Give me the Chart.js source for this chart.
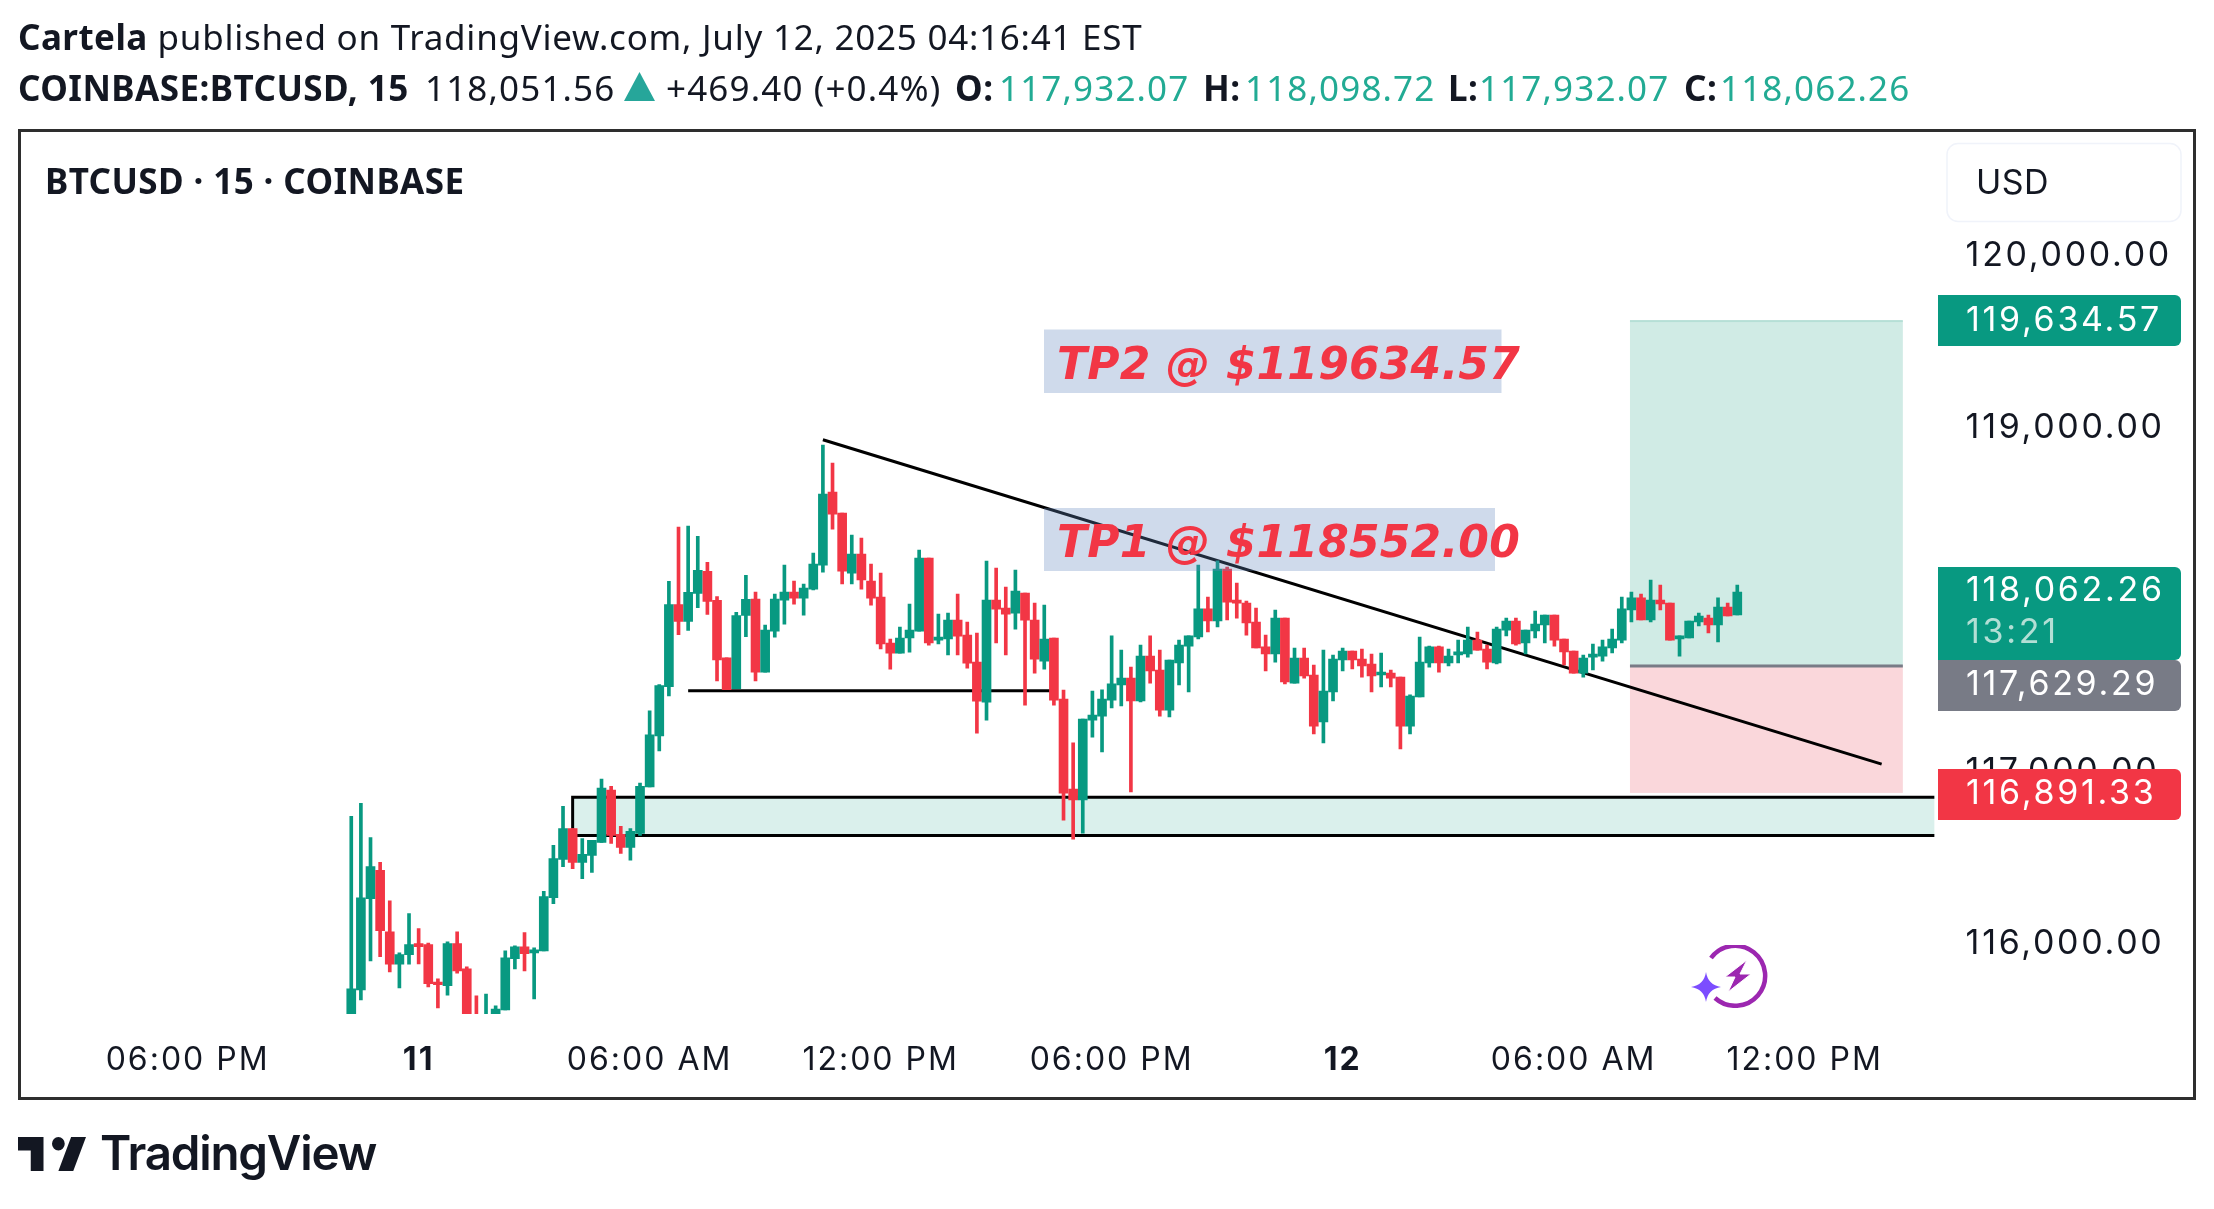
<!DOCTYPE html>
<html><head><meta charset="utf-8">
<script src="https://cdn.jsdelivr.net/npm/chart.js@4/dist/chart.umd.min.js"></script>
<style>
html,body{margin:0;padding:0;background:#fff;width:2214px;height:1209px;overflow:hidden}
canvas{position:absolute;left:0;top:0}
.t{position:absolute;white-space:nowrap;font-family:"Noto Sans",sans-serif;color:#131722;font-size:35px;line-height:40px;letter-spacing:.75px}
.v{letter-spacing:1.15px}
.b{font-weight:700;letter-spacing:.45px}.g{color:#22ab94}
#frame{position:absolute;left:18px;top:129px;width:2172px;height:965px;border:3px solid #2e2e2e;pointer-events:none;box-sizing:content-box}
</style></head><body>
<canvas id="c" width="2214" height="1209"></canvas>
<div class="t" style="left:18px;top:17px"><span class="b">Cartela</span> published on TradingView.com, July 12, 2025 04:16:41 EST</div>
<div class="t b" style="left:18px;top:68px">COINBASE:BTCUSD, 15</div>
<div class="t v" style="left:425px;top:68px">118,051.56</div>
<svg style="position:absolute;left:624px;top:72px" width="31" height="29"><polygon points="15.5,0 31,29 0,29" fill="#26a69a"/></svg>
<div class="t v" style="left:666px;top:68px">+469.40 (+0.4%)</div>
<div class="t b" style="left:955px;top:68px">O:</div><div class="t v g" style="left:999px;top:68px">117,932.07</div>
<div class="t b" style="left:1203px;top:68px">H:</div><div class="t v g" style="left:1245px;top:68px">118,098.72</div>
<div class="t b" style="left:1448px;top:68px">L:</div><div class="t v g" style="left:1479px;top:68px">117,932.07</div>
<div class="t b" style="left:1684px;top:68px">C:</div><div class="t v g" style="left:1720px;top:68px">118,062.26</div>
<div class="t b" style="left:45px;top:161px;letter-spacing:.4px">BTCUSD · 15 · COINBASE</div>
<div id="frame"></div>
<svg style="position:absolute;left:1691px;top:945px" width="78" height="63" viewBox="0 0 78 63">
<path d="M20 13 A30 30 0 1 1 24 53" fill="none" stroke="#9c27b0" stroke-width="4.5"/>
<path d="M56 15 L34 32 L44 32 L37 47 L60 29 L49 29 Z" fill="#9c27b0" stroke="#fff" stroke-width="1"/>
<path d="M15 27 Q17 40 30 42 Q17 44 15 57 Q13 44 0 42 Q13 40 15 27Z" fill="#7c4dff"/>
</svg>
<svg style="position:absolute;left:18px;top:1137px" width="68" height="34" viewBox="2 6 32 15" preserveAspectRatio="none"><path d="M14 6H2v6h6v9h6V6zm14 15h-7l6-15h7l-6 15zm-7-9a3 3 0 1 0 0-6 3 3 0 0 0 0 6z" fill="#131722"/></svg>
<div class="t" style="left:100px;top:1127px;font-family:Inter,sans-serif;font-weight:600;font-size:47.5px;line-height:52px;letter-spacing:-1.2px">TradingView</div>
<script>
const opens=[115540,115746,116276,116441,116084,115895,115951,116015,116009,115792,115770,116015,115868,115580,115560,115560,115629,115927,115997,115961,115973,116282,116504,116684,116488,116528,116604,116908,116650,116574,116656,116926,117223,117509,117987,117888,118051,118180,118011,117677,117497,117923,118018,117594,117832,118012,118059,118024,118076,118216,118640,118518,118169,118280,118123,118030,117763,117704,117792,117832,118257,117780,117786,117896,117809,117652,117419,118012,117966,117937,118053,117896,117658,117792,117437,116914,116850,117315,117338,117431,117519,117559,117426,117687,117606,117373,117647,117745,117798,117961,117891,118193,118013,117995,117885,117740,117699,117908,117530,117676,117577,117304,117478,117664,117716,117670,117641,117577,117588,117565,117280,117449,117647,117740,117647,117693,117699,117780,117728,117647,117838,117891,117763,117833,117868,117926,117786,117716,117588,117681,117687,117734,117780,117955,118025,117897,118013,117995,117786,117792,117885,117908,117868,117972,117926];
const highs=[116755,116831,116632,116488,116264,115961,116190,116102,116019,115810,116025,116084,115880,115712,115722,115653,115973,116003,116079,115991,116319,116586,116813,116684,116626,116616,116972,116930,116697,116684,116948,117368,117521,118122,118437,118443,118383,118232,118033,117677,117941,118156,118059,117867,118047,118216,118123,118106,118286,118914,118809,118518,118390,118373,118222,118169,117786,117856,117989,118303,118257,117931,117937,118047,117885,117821,118239,118199,118088,118187,118053,117995,117983,117792,117489,117182,117321,117484,117490,117804,117722,117623,117751,117804,117722,117664,117780,117804,118216,118030,118240,118205,118112,118007,117966,117809,117955,117908,117734,117734,117635,117722,117693,117734,117716,117728,117699,117705,117606,117565,117461,117798,117745,117745,117728,117780,117856,117827,117751,117856,117908,117908,117838,117949,117926,117926,117786,117716,117693,117757,117780,117844,118030,118059,118048,118129,118100,117995,117804,117891,117937,117926,118025,117995,118100];
const lows=[115500,115688,115915,115939,115850,115758,115895,115897,115764,115641,115716,115844,115530,115500,115500,115540,115629,115868,115856,115694,115973,116248,116463,116451,116393,116429,116604,116598,116540,116500,116644,116926,117135,117456,117812,117836,117969,117929,117543,117491,117497,117800,117542,117594,117797,117873,117989,117925,118071,118175,118425,118106,118106,118076,117983,117728,117611,117704,117710,117832,117751,117757,117693,117693,117617,117239,117315,117763,117693,117844,117402,117588,117611,117402,116733,116623,116658,117216,117129,117385,117397,116897,117420,117530,117338,117333,117519,117478,117786,117827,117856,117897,117908,117809,117734,117600,117652,117525,117530,117559,117234,117182,117426,117600,117612,117565,117478,117507,117507,117147,117234,117449,117623,117594,117629,117647,117681,117722,117612,117641,117804,117751,117699,117792,117763,117745,117635,117588,117565,117606,117658,117705,117763,117885,117897,117885,117955,117780,117687,117792,117862,117821,117769,117920,117926];
const closes=[115752,116282,116463,116090,115895,115951,116009,115997,115782,115776,116015,115856,115560,115540,115585,115635,115933,115997,115957,115979,116289,116510,116684,116488,116534,116616,116920,116644,116574,116668,116930,117229,117515,117987,117888,118057,118186,118005,117665,117491,117923,118017,117594,117838,118018,118059,118024,118082,118222,118629,118512,118181,118280,118129,118024,117757,117704,117792,117838,118257,117763,117797,117896,117803,117646,117425,118012,117960,117931,118065,117896,117669,117786,117431,116890,116850,117321,117344,117437,117525,117559,117426,117687,117600,117373,117664,117751,117804,117961,117891,118193,118001,117995,117879,117734,117699,117908,117536,117676,117571,117280,117484,117670,117716,117664,117629,117571,117594,117559,117280,117455,117652,117740,117647,117687,117711,117780,117722,117652,117844,117891,117757,117838,117873,117926,117780,117711,117588,117676,117699,117740,117786,117961,118025,117897,118013,117990,117780,117804,117891,117920,117868,117972,117920,118059];
const slotCount=199, firstCandleSlot=34;
const tickSlots=[17,41,65,89,113,137,161,185];
const tickLabels=['06:00 PM','11','06:00 AM','12:00 PM','06:00 PM','12','06:00 AM','12:00 PM'];
const boldTickLabels=['11','12'];
const priceTicks=[120000,119000,117000,116000];
const trendSlots=[83,193], trendPrices=[118945,117059];
const shelfSlots=[69,107], shelfPrice=117485;
const zonePrices=[116866,116644], zoneSlotStart=57;
const targetPrice=119634.57, entryPrice=117629.29, stopPrice=116891.33, lastPrice=118062.26;
const positionSlots=[166.85,195.2];
const tp1Text='TP1 @ $118552.00', tp2Text='TP2 @ $119634.57', countdown='13:21';

const xLabels=Array(slotCount).fill('');
tickSlots.forEach((s,i)=>{xLabels[s]=tickLabels[i]});
const pad=Array(firstCandleSlot).fill(null);
const GREEN='#089981',RED='#f23645';
const candleColor=c=>{const i=c.dataIndex-firstCandleSlot;return closes[i]>=opens[i]?GREEN:RED};
const sparse=(slots,vals)=>{const a=Array(slotCount).fill(null);slots.forEach((s,i)=>a[s]=vals[i]);return a};
const fmt=v=>v.toLocaleString('en-US',{minimumFractionDigits:2,maximumFractionDigits:2});
const TICK_FONT='34px Inter, sans-serif', X_SPACING='2px', Y_SPACING='2.7px';

const drawings={id:'drawings',
 beforeDatasetsDraw(ch){const {ctx,scales:{x,y},chartArea:a}=ch;ctx.save();
  ctx.beginPath();ctx.rect(a.left,a.top,a.width,a.height);ctx.clip();
  const zl=x.getPixelForValue(zoneSlotStart),zt=y.getPixelForValue(zonePrices[0]),zb=y.getPixelForValue(zonePrices[1]);
  ctx.fillStyle='#daf0ec';ctx.fillRect(zl,zt,a.right-zl,zb-zt);
  ctx.strokeStyle='#000';ctx.lineWidth=3;ctx.beginPath();ctx.moveTo(a.right,zt);ctx.lineTo(zl,zt);ctx.lineTo(zl,zb);ctx.lineTo(a.right,zb);ctx.stroke();
  const pl=x.getPixelForValue(positionSlots[0]),pr=x.getPixelForValue(positionSlots[1]);
  const pt=y.getPixelForValue(targetPrice),pe=y.getPixelForValue(entryPrice),ps=y.getPixelForValue(stopPrice);
  ctx.fillStyle='#d0ebe5';ctx.fillRect(pl,pt,pr-pl,pe-pt);
  ctx.fillStyle='#fad7db';ctx.fillRect(pl,pe,pr-pl,ps-pe);
  ctx.fillStyle='#b5dfd6';ctx.fillRect(pl,pt-1,pr-pl,2);
  ctx.restore();
 },
 afterDatasetsDraw(ch){const {ctx,scales:{x,y}}=ch;ctx.save();
  const pl=x.getPixelForValue(positionSlots[0]),pr=x.getPixelForValue(positionSlots[1]),pe=y.getPixelForValue(entryPrice);
  ctx.fillStyle='#787b86';ctx.fillRect(pl,pe-1.5,pr-pl,3);
  ctx.letterSpacing='0.2px';
  const boxes=[[tp2Text,1044,1501.5,329.5,393,365],[tp1Text,1044,1495,508,571,543]];
  boxes.forEach(([t,l,r,tp,bt,cy])=>{
   ctx.fillStyle='rgba(100,135,190,0.31)';ctx.fillRect(l,tp,r-l,bt-tp);
   ctx.fillStyle=RED;ctx.font='italic bold 44px "DejaVu Sans"';ctx.textAlign='left';ctx.textBaseline='middle';ctx.fillText(t,1057,cy+3);
  });
  ctx.restore();
 },
 afterDraw(ch){const {ctx}=ch;ctx.save();
  ctx.strokeStyle='#f0f3fa';ctx.lineWidth=1.5;ctx.fillStyle='#fff';ctx.beginPath();ctx.roundRect(1947,143.5,234,78,11);ctx.fill();ctx.stroke();
  ctx.font=TICK_FONT;ctx.letterSpacing='0.5px';ctx.fillStyle='#131722';ctx.textAlign='left';ctx.textBaseline='middle';ctx.fillText('USD',1976,184);
  ctx.letterSpacing=Y_SPACING;
  const badges=[[targetPrice,GREEN,295,346,320.5],[lastPrice,GREEN,567,660,590.5],[entryPrice,'#787b86',660,711,684.5],[stopPrice,RED,769,820,794]];
  badges.forEach(([v,col,t,b,ty])=>{ctx.fillStyle=col;ctx.beginPath();ctx.roundRect(1938,t,243,b-t,[0,6,6,0]);ctx.fill();
   ctx.fillStyle='#fff';ctx.fillText(fmt(v),1966,ty)});
  ctx.fillStyle='#b3dfd5';ctx.fillText(countdown,1966,633);
  ctx.restore();
 }
};

const spaced=(s,sp)=>{if(s.__spaced)return;s.__spaced=true;const o=s.drawLabels;s.drawLabels=function(a){const c=this.ctx,p=c.letterSpacing;c.letterSpacing=sp;o.call(this,a);c.letterSpacing=p}};

new Chart(document.getElementById('c'),{
 type:'bar',
 plugins:[drawings],
 data:{labels:xLabels,datasets:[
  {type:'bar',label:'Body',order:1,grouped:false,barThickness:9,borderWidth:0,backgroundColor:candleColor,
   data:[...pad,...opens.map((o,i)=>[o,closes[i]])]},
  {type:'bar',label:'Wick',order:2,grouped:false,barThickness:3,borderWidth:0,backgroundColor:candleColor,
   data:[...pad,...lows.map((l,i)=>[l,highs[i]])]},
  {type:'line',label:'Trend',order:5,data:sparse(trendSlots,trendPrices),spanGaps:true,borderColor:'#000',borderWidth:3,pointRadius:0,tension:0},
  {type:'line',label:'Shelf',order:5,data:sparse(shelfSlots,[shelfPrice,shelfPrice]),spanGaps:true,borderColor:'#000',borderWidth:3,pointRadius:0,tension:0}
 ]},
 options:{responsive:false,animation:false,devicePixelRatio:1,
  layout:{padding:{left:19.2,top:132,right:0,bottom:0}},
  plugins:{legend:{display:false},title:{display:false},tooltip:{enabled:false}},
  datasets:{bar:{grouped:false}},
  scales:{
   x:{type:'category',offset:true,grid:{display:false,drawTicks:false},border:{display:false},
    afterFit(s){s.height=195;spaced(s,X_SPACING)},
    afterBuildTicks(s){s.ticks=tickSlots.map(v=>({value:v}))},
    ticks:{autoSkip:false,maxRotation:0,minRotation:0,padding:27,color:'#131722',
     font:c=>({family:'Inter, sans-serif',size:32,weight:boldTickLabels.includes(xLabels[c.tick?c.tick.value:-1])?'700':'400'})}},
   y:{type:'linear',position:'right',min:115606,max:120733.9,grid:{display:false,drawTicks:false},border:{display:false},
    afterFit(s){s.width=279.4;spaced(s,Y_SPACING)},
    afterBuildTicks(s){s.ticks=priceTicks.map(v=>({value:v}))},
    ticks:{padding:31,labelOffset:-2.5,color:'#131722',font:{family:'Inter, sans-serif',size:34},callback:v=>fmt(v)}}
  }}
});
</script>
</body></html>
